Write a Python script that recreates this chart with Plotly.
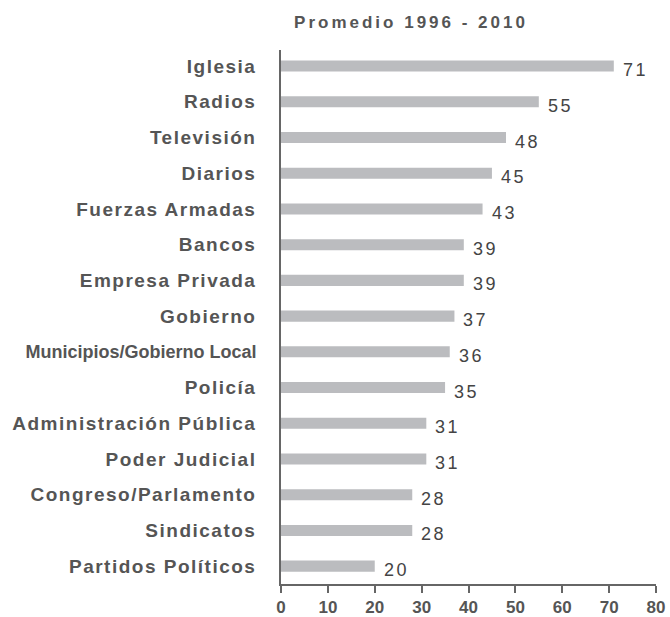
import plotly.graph_objects as go

categories = ["Iglesia", "Radios", "Televisión", "Diarios", "Fuerzas Armadas", "Bancos",
              "Empresa Privada", "Gobierno", "Municipios/Gobierno Local", "Policía",
              "Administración Pública", "Poder Judicial", "Congreso/Parlamento",
              "Sindicatos", "Partidos Políticos"]
values = [71, 55, 48, 45, 43, 39, 39, 37, 36, 35, 31, 31, 28, 28, 20]
tick_vals = [0, 10, 20, 30, 40, 50, 60, 70, 80]
title_text = "Promedio 1996 - 2010"

ticktext = []
for c in categories:
    if c == "Municipios/Gobierno Local":
        ticktext.append("<span style=\"font-size:18px;letter-spacing:0px\"><b>%s</b></span>" % c)
    else:
        ticktext.append("<span style=\"letter-spacing:1.5px\"><b>%s</b></span>" % c)

fig = go.Figure()
fig.add_trace(go.Bar(
    x=values, y=categories, orientation="h",
    marker=dict(color="#bbbcbf", line=dict(width=0)),
    width=0.31, hoverinfo="skip",
))

for c, v in zip(categories, values):
    fig.add_annotation(x=v, y=c, text="<span style=\"letter-spacing:2.5px\">%d</span>" % v,
                       showarrow=False, xanchor="left", xshift=7, yshift=-4,
                       font=dict(family="Liberation Sans", size=18, color="#444444"))

fig.update_layout(
    width=670, height=617,
    margin=dict(l=281, r=14, t=50, b=33, autoexpand=False),
    plot_bgcolor="white", paper_bgcolor="white",
    showlegend=False,
    title=dict(text="<span style=\"letter-spacing:3px\"><b>%s</b></span>" % title_text,
               x=411/670, xanchor="center", y=1 - 22/617, yanchor="middle",
               font=dict(family="Liberation Sans", size=17, color="#555555")),
    font=dict(family="Liberation Sans"),
)
fig.update_xaxes(range=[0, 80], tickvals=tick_vals, ticktext=["<b>%d</b>" % t for t in tick_vals],
                 automargin=False,
                 showgrid=False, zeroline=False, showline=True, linecolor="#666666", linewidth=1.5,
                 ticks="outside", ticklen=7, tickcolor="#666666", tickwidth=1.5,
                 tickfont=dict(family="Liberation Sans", size=17, color="#555555"))
fig.update_yaxes(categoryorder="array", categoryarray=categories, autorange=False,
                 range=[14.5, -0.45], tickvals=categories, ticktext=ticktext,
                 automargin=False,
                 showgrid=False, zeroline=False, showline=True, linecolor="#666666", linewidth=1.5,
                 ticks="", ticklabelstandoff=19,
                 tickfont=dict(family="Liberation Sans", size=19, color="#555555"))

fig.write_html("out.html", config={"displayModeBar": False},
               post_script="document.body.style.margin='0px';")
